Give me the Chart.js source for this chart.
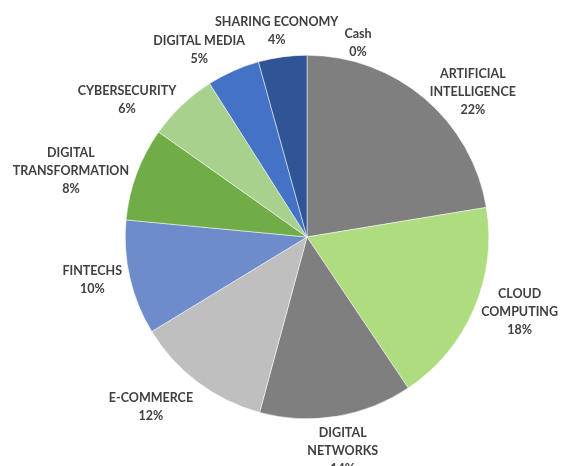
<!DOCTYPE html>
<html><head><meta charset="utf-8">
<script src="https://cdn.jsdelivr.net/npm/chart.js@4"></script>
<style>html,body{margin:0;padding:0;background:#fff;}#wrap{width:563px;height:466px;}</style>
</head><body><div id="wrap"><canvas id="c" width="563" height="466"></canvas></div>
<script>
const categories = [
  ["ARTIFICIAL", "INTELLIGENCE"],
  ["CLOUD", "COMPUTING"],
  ["DIGITAL", "NETWORKS"],
  ["E-COMMERCE"],
  ["FINTECHS"],
  ["DIGITAL", "TRANSFORMATION"],
  ["CYBERSECURITY"],
  ["DIGITAL MEDIA"],
  ["SHARING ECONOMY"],
  ["Cash"]
];
const values = [22.4, 18.2, 13.6, 12.1, 10.2, 8.3, 6.2, 4.7, 4.3, 0];
const colors = ["#7f7f7f", "#afdc7e", "#7f7f7f", "#bfbfbf", "#6e8bcb", "#70ad47", "#a9d18e", "#4472c4", "#2f5597", "#1f3864"];

const labelPlugin = {
  id: 'outLabels',
  afterDatasetsDraw(chart) {
    const ctx = chart.ctx;
    const meta = chart.getDatasetMeta(0);
    const total = values.reduce((a, b) => a + b, 0);
    const lh = 18, gap = 8;
    ctx.save();
    ctx.font = 'bold 12.5px Lato, "Open Sans", sans-serif';
    ctx.fillStyle = '#404040';
    ctx.textAlign = 'center';
    ctx.textBaseline = 'middle';
    const placed = [];
    meta.data.forEach((arc, i) => {
      const p = arc.getProps(['x', 'y', 'startAngle', 'endAngle', 'outerRadius'], true);
      const mid = (p.startAngle + p.endAngle) / 2;
      const dx = Math.cos(mid), dy = Math.sin(mid);
      const lines = categories[i].concat([Math.round(values[i] / total * 100) + '%']);
      const w = Math.max(...lines.map(l => ctx.measureText(l).width));
      const h = lines.length * lh;
      const ax = p.x + dx * (p.outerRadius + gap);
      const ay = p.y + dy * (p.outerRadius + gap);
      const hx = Math.sign(dx) * Math.min(1, Math.max(0, (Math.abs(dx) - 0.1) * 2.2));
      const hy = Math.abs(dy) > 0.78 ? Math.sign(dy) : 0;
      let cx = ax + hx * w / 2;
      let cy = ay + hy * h / 2 + (hy < 0 && Math.abs(dx) > 0.3 ? 4 : 0);
      if (values[i] === 0) {
        // zero-size slice label is moved aside of the neighbouring label
        for (const b of placed) {
          if (Math.abs(cx - b.cx) < (w + b.w) / 2 + 6 && Math.abs(cy - b.cy) < (h + b.h) / 2) {
            cx = b.cx + (w + b.w) / 2 + 6;
            cy = cy + 14;
          }
        }
      }
      placed.push({cx, cy, w, h});
      lines.forEach((l, k) => {
        ctx.fillText(l, cx, cy - h / 2 + lh / 2 + k * lh);
      });
    });
    ctx.restore();
  }
};

new Chart(document.getElementById('c'), {
  type: 'pie',
  data: {
    labels: categories.map(c => c.join(' ')),
    datasets: [{
      data: values,
      backgroundColor: colors,
      borderColor: '#ffffff',
      borderWidth: 0.5
    }]
  },
  options: {
    responsive: false,
    animation: false,
    layout: { padding: { left: 125, right: 74, top: 55, bottom: 47 } },
    plugins: { legend: { display: false }, tooltip: { enabled: false } }
  },
  plugins: [labelPlugin]
});
</script>
</body></html>
